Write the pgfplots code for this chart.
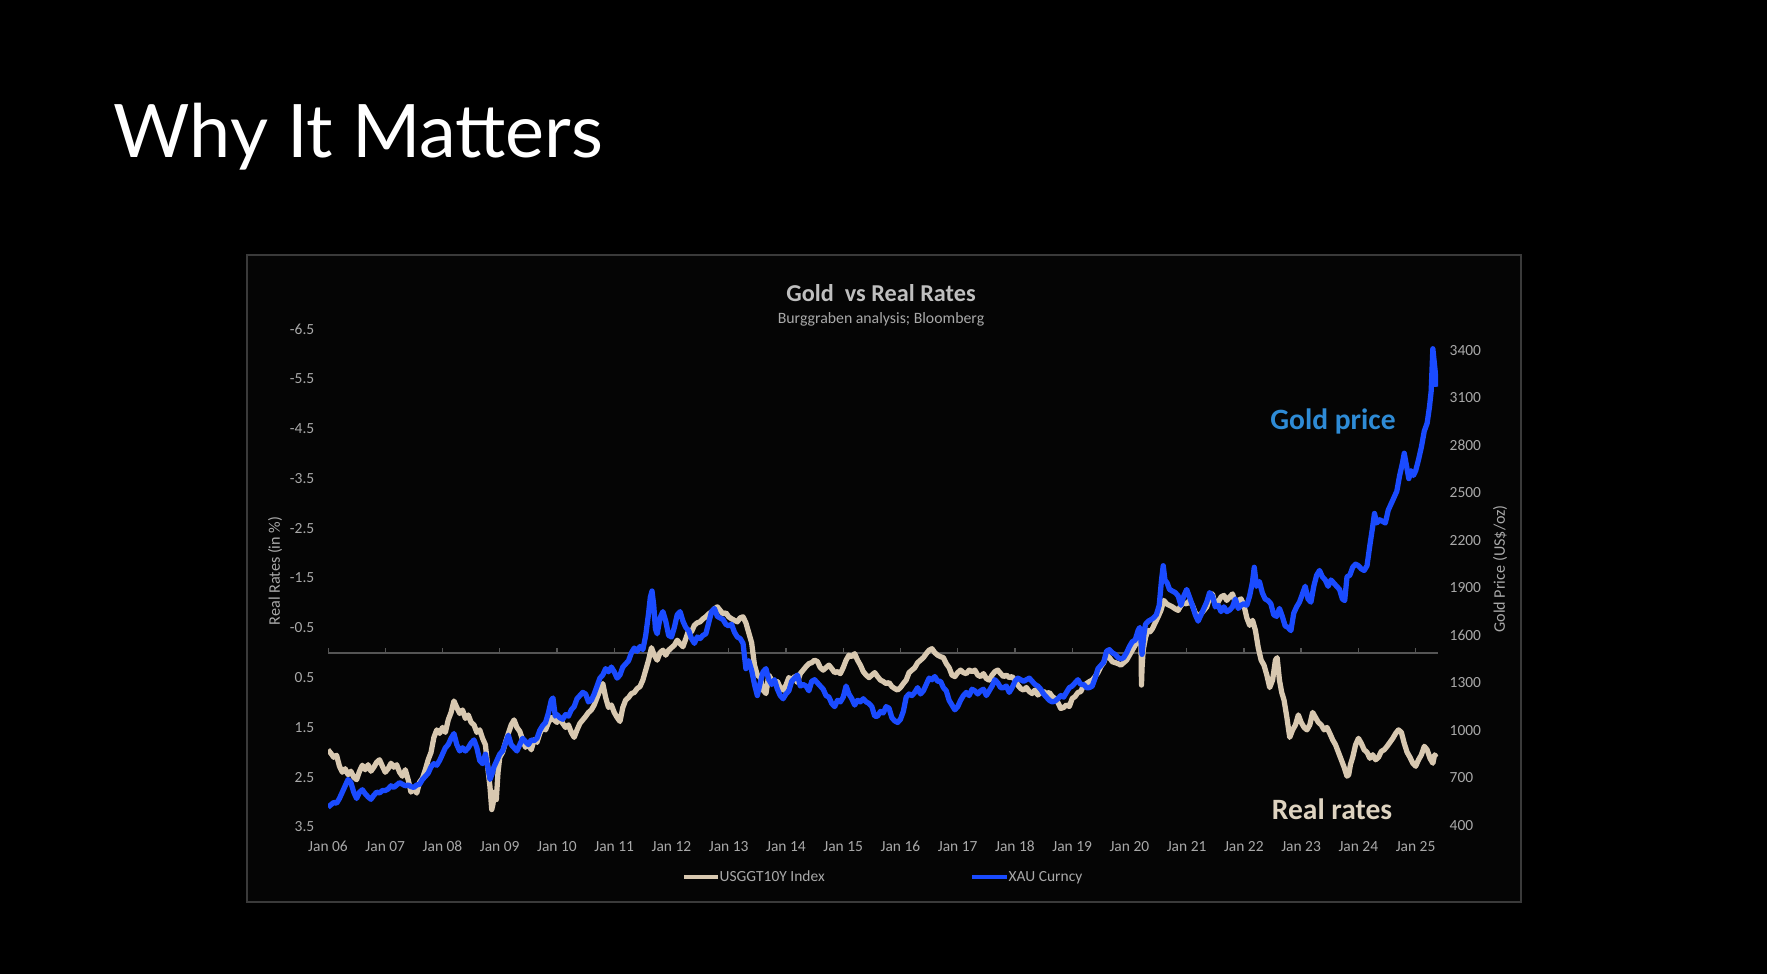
\documentclass[border=0pt]{standalone}
\usepackage{fontspec}
\setmainfont{Carlito}
\newfontfamily\titlefont{Lato}
\usepackage{pgfplots}
\pgfplotsset{compat=1.18}
\usepackage{pgfplotstable}

\definecolor{beigeline}{HTML}{D8C8B0}
\definecolor{blueline}{HTML}{1A4BFF}
\definecolor{goldlbl}{HTML}{2E8BD6}
\definecolor{reallbl}{HTML}{DED3C0}
\definecolor{tickgray}{HTML}{A9A9A9}
\definecolor{titlegray}{HTML}{BFBFBF}
\definecolor{framegray}{HTML}{3A3A3A}
\definecolor{zerogray}{HTML}{555555}

\pgfplotstableread{
t r
2006.00 1.95
2006.05 2.02
2006.10 2.10
2006.15 2.06
2006.20 2.28
2006.25 2.40
2006.30 2.33
2006.35 2.45
2006.40 2.38
2006.45 2.50
2006.50 2.55
2006.55 2.38
2006.60 2.26
2006.65 2.35
2006.70 2.25
2006.75 2.38
2006.80 2.30
2006.85 2.20
2006.90 2.15
2006.95 2.28
2007.00 2.40
2007.05 2.33
2007.10 2.22
2007.15 2.30
2007.20 2.25
2007.25 2.40
2007.30 2.48
2007.35 2.35
2007.40 2.55
2007.45 2.80
2007.50 2.72
2007.55 2.82
2007.60 2.60
2007.65 2.52
2007.70 2.35
2007.75 2.15
2007.80 2.00
2007.85 1.70
2007.90 1.55
2007.95 1.62
2008.00 1.50
2008.05 1.60
2008.10 1.35
2008.15 1.20
2008.20 0.97
2008.25 1.10
2008.30 1.22
2008.35 1.15
2008.40 1.32
2008.45 1.25
2008.50 1.40
2008.55 1.45
2008.60 1.60
2008.65 1.55
2008.70 1.72
2008.75 1.85
2008.80 2.40
2008.83 2.70
2008.86 3.15
2008.88 3.05
2008.91 2.80
2008.94 2.95
2008.97 2.40
2009.00 2.10
2009.05 2.00
2009.10 1.80
2009.15 1.62
2009.20 1.45
2009.25 1.35
2009.30 1.50
2009.35 1.58
2009.40 1.75
2009.45 1.90
2009.50 1.82
2009.55 1.95
2009.60 1.75
2009.65 1.80
2009.70 1.62
2009.75 1.50
2009.80 1.55
2009.85 1.40
2009.90 1.30
2009.95 1.35
2010.00 1.40
2010.05 1.30
2010.10 1.42
2010.15 1.50
2010.20 1.45
2010.25 1.60
2010.30 1.70
2010.35 1.55
2010.40 1.42
2010.45 1.35
2010.50 1.28
2010.55 1.20
2010.60 1.15
2010.65 1.05
2010.70 0.90
2010.75 0.75
2010.80 0.62
2010.85 0.90
2010.90 1.10
2010.95 1.05
2011.00 1.20
2011.05 1.30
2011.10 1.38
2011.15 1.10
2011.20 0.95
2011.25 0.90
2011.30 0.82
2011.35 0.80
2011.40 0.72
2011.45 0.68
2011.50 0.55
2011.55 0.35
2011.60 0.15
2011.65 -0.10
2011.70 0.05
2011.75 0.15
2011.80 0.00
2011.85 -0.05
2011.90 0.05
2011.95 -0.05
2012.00 -0.10
2012.05 -0.15
2012.10 -0.25
2012.15 -0.18
2012.20 -0.12
2012.25 -0.28
2012.30 -0.45
2012.35 -0.42
2012.40 -0.55
2012.45 -0.60
2012.50 -0.62
2012.55 -0.68
2012.60 -0.72
2012.65 -0.78
2012.70 -0.82
2012.75 -0.88
2012.80 -0.92
2012.85 -0.85
2012.90 -0.78
2012.95 -0.80
2013.00 -0.72
2013.05 -0.68
2013.10 -0.65
2013.15 -0.62
2013.20 -0.70
2013.25 -0.72
2013.30 -0.60
2013.35 -0.40
2013.40 -0.20
2013.45 0.25
2013.50 0.45
2013.55 0.50
2013.60 0.75
2013.65 0.82
2013.70 0.45
2013.75 0.55
2013.80 0.62
2013.85 0.58
2013.90 0.70
2013.95 0.75
2014.00 0.65
2014.05 0.50
2014.10 0.55
2014.15 0.48
2014.20 0.60
2014.25 0.42
2014.30 0.35
2014.35 0.28
2014.40 0.22
2014.45 0.20
2014.50 0.15
2014.55 0.18
2014.60 0.30
2014.65 0.35
2014.70 0.30
2014.75 0.25
2014.80 0.32
2014.85 0.40
2014.90 0.38
2014.95 0.42
2015.00 0.30
2015.05 0.15
2015.10 0.05
2015.15 0.08
2015.20 0.02
2015.25 0.15
2015.30 0.25
2015.35 0.38
2015.40 0.45
2015.45 0.50
2015.50 0.45
2015.55 0.40
2015.60 0.48
2015.65 0.55
2015.70 0.58
2015.75 0.62
2015.80 0.60
2015.85 0.68
2015.90 0.72
2015.95 0.75
2016.00 0.70
2016.05 0.62
2016.10 0.55
2016.15 0.40
2016.20 0.35
2016.25 0.30
2016.30 0.20
2016.35 0.15
2016.40 0.10
2016.45 0.02
2016.50 -0.05
2016.55 -0.08
2016.60 0.00
2016.65 0.05
2016.70 0.08
2016.75 0.10
2016.80 0.22
2016.85 0.30
2016.90 0.45
2016.95 0.48
2017.00 0.40
2017.05 0.35
2017.10 0.40
2017.15 0.42
2017.20 0.35
2017.25 0.38
2017.30 0.35
2017.35 0.45
2017.40 0.48
2017.45 0.42
2017.50 0.52
2017.55 0.55
2017.60 0.45
2017.65 0.38
2017.70 0.35
2017.75 0.42
2017.80 0.48
2017.85 0.45
2017.90 0.50
2017.95 0.48
2018.00 0.55
2018.05 0.65
2018.10 0.72
2018.15 0.75
2018.20 0.70
2018.25 0.78
2018.30 0.82
2018.35 0.75
2018.40 0.85
2018.45 0.80
2018.50 0.78
2018.55 0.82
2018.60 0.80
2018.65 0.88
2018.70 0.92
2018.75 1.00
2018.80 1.12
2018.85 1.10
2018.90 1.05
2018.95 1.08
2019.00 0.92
2019.05 0.88
2019.10 0.80
2019.15 0.78
2019.20 0.65
2019.25 0.62
2019.30 0.58
2019.35 0.55
2019.40 0.48
2019.45 0.40
2019.50 0.28
2019.55 0.20
2019.60 0.05
2019.65 0.10
2019.70 0.18
2019.75 0.20
2019.80 0.22
2019.85 0.25
2019.90 0.20
2019.95 0.15
2020.00 0.05
2020.05 -0.05
2020.10 -0.15
2020.15 -0.25
2020.18 -0.30
2020.20 -0.35
2020.21 0.65
2020.22 0.30
2020.24 -0.05
2020.28 -0.30
2020.32 -0.45
2020.36 -0.42
2020.40 -0.48
2020.45 -0.60
2020.50 -0.72
2020.55 -0.85
2020.60 -1.05
2020.65 -0.98
2020.70 -0.95
2020.75 -0.92
2020.80 -0.88
2020.85 -0.85
2020.90 -0.95
2020.95 -1.00
2021.00 -0.98
2021.05 -1.05
2021.10 -0.95
2021.15 -0.80
2021.20 -0.72
2021.25 -0.78
2021.30 -0.85
2021.35 -0.92
2021.40 -1.10
2021.45 -1.18
2021.50 -0.95
2021.55 -1.02
2021.60 -1.12
2021.65 -1.15
2021.70 -1.05
2021.75 -1.12
2021.80 -1.18
2021.85 -1.00
2021.90 -1.05
2021.95 -1.08
2022.00 -0.95
2022.05 -0.70
2022.10 -0.55
2022.15 -0.65
2022.20 -0.45
2022.25 -0.10
2022.30 0.15
2022.35 0.25
2022.40 0.45
2022.45 0.70
2022.50 0.55
2022.55 0.15
2022.58 0.10
2022.62 0.55
2022.66 0.80
2022.70 0.95
2022.75 1.30
2022.80 1.70
2022.85 1.55
2022.90 1.45
2022.95 1.25
2023.00 1.40
2023.05 1.50
2023.10 1.55
2023.15 1.45
2023.20 1.20
2023.25 1.30
2023.30 1.40
2023.35 1.45
2023.40 1.55
2023.45 1.50
2023.50 1.62
2023.55 1.75
2023.60 1.85
2023.65 2.00
2023.70 2.15
2023.75 2.30
2023.80 2.48
2023.83 2.45
2023.86 2.25
2023.90 2.10
2023.95 1.85
2024.00 1.72
2024.05 1.82
2024.10 1.95
2024.15 2.00
2024.20 2.12
2024.25 2.05
2024.30 2.15
2024.35 2.10
2024.40 1.98
2024.45 1.95
2024.50 1.88
2024.55 1.80
2024.60 1.72
2024.65 1.62
2024.70 1.55
2024.75 1.60
2024.80 1.82
2024.85 2.00
2024.90 2.10
2024.95 2.22
2025.00 2.28
2025.05 2.15
2025.10 2.05
2025.15 1.88
2025.20 1.95
2025.25 2.12
2025.30 2.22
2025.33 2.05
2025.36 2.10
}\realrates

\pgfplotstableread{
t g
2006.00 525
2006.05 540
2006.10 555
2006.15 550
2006.20 580
2006.25 620
2006.30 660
2006.35 700
2006.40 680
2006.45 620
2006.50 580
2006.55 620
2006.60 635
2006.65 610
2006.70 590
2006.75 575
2006.80 600
2006.85 620
2006.90 615
2006.95 630
2007.00 630
2007.05 640
2007.10 660
2007.15 650
2007.20 665
2007.25 680
2007.30 670
2007.35 660
2007.40 665
2007.45 655
2007.50 650
2007.55 665
2007.60 670
2007.65 700
2007.70 720
2007.75 740
2007.80 780
2007.85 800
2007.90 790
2007.95 820
2008.00 860
2008.05 900
2008.10 920
2008.15 960
2008.20 990
2008.25 920
2008.30 880
2008.35 900
2008.40 880
2008.45 900
2008.50 930
2008.55 950
2008.60 900
2008.65 820
2008.70 800
2008.75 860
2008.80 760
2008.83 700
2008.87 740
2008.90 780
2008.95 820
2009.00 860
2009.05 880
2009.10 930
2009.15 980
2009.20 920
2009.25 900
2009.30 880
2009.35 920
2009.40 960
2009.45 940
2009.50 920
2009.55 950
2009.60 945
2009.65 960
2009.70 1010
2009.75 1040
2009.80 1060
2009.85 1120
2009.90 1200
2009.93 1215
2009.97 1100
2010.00 1110
2010.05 1090
2010.10 1080
2010.15 1110
2010.20 1100
2010.25 1140
2010.30 1160
2010.35 1210
2010.40 1230
2010.45 1250
2010.50 1240
2010.55 1190
2010.60 1200
2010.65 1240
2010.70 1290
2010.75 1340
2010.80 1360
2010.85 1400
2010.90 1380
2010.95 1410
2011.00 1380
2011.05 1340
2011.10 1360
2011.15 1410
2011.20 1430
2011.25 1450
2011.30 1500
2011.35 1530
2011.40 1510
2011.45 1540
2011.50 1520
2011.55 1610
2011.60 1750
2011.63 1850
2011.66 1890
2011.69 1800
2011.72 1650
2011.75 1620
2011.80 1720
2011.85 1760
2011.90 1700
2011.95 1610
2012.00 1600
2012.05 1660
2012.10 1740
2012.15 1760
2012.20 1700
2012.25 1660
2012.30 1640
2012.35 1590
2012.40 1560
2012.45 1600
2012.50 1590
2012.55 1610
2012.60 1620
2012.65 1690
2012.70 1760
2012.75 1780
2012.80 1730
2012.85 1720
2012.90 1710
2012.95 1680
2013.00 1670
2013.05 1680
2013.10 1630
2013.15 1600
2013.20 1590
2013.25 1560
2013.30 1400
2013.35 1450
2013.40 1390
2013.45 1300
2013.50 1230
2013.55 1310
2013.60 1380
2013.65 1400
2013.70 1330
2013.75 1300
2013.80 1330
2013.85 1270
2013.90 1230
2013.95 1210
2014.00 1240
2014.05 1260
2014.10 1320
2014.15 1340
2014.20 1360
2014.25 1290
2014.30 1300
2014.35 1290
2014.40 1260
2014.45 1320
2014.50 1330
2014.55 1310
2014.60 1290
2014.65 1270
2014.70 1230
2014.75 1220
2014.80 1180
2014.85 1160
2014.90 1200
2014.95 1190
2015.00 1220
2015.05 1290
2015.10 1240
2015.15 1210
2015.20 1170
2015.25 1200
2015.30 1190
2015.35 1210
2015.40 1190
2015.45 1180
2015.50 1160
2015.55 1100
2015.60 1100
2015.65 1130
2015.70 1120
2015.75 1160
2015.80 1150
2015.85 1090
2015.90 1070
2015.95 1060
2016.00 1080
2016.05 1130
2016.10 1220
2016.15 1240
2016.20 1230
2016.25 1250
2016.30 1280
2016.35 1240
2016.40 1260
2016.45 1300
2016.50 1340
2016.55 1330
2016.60 1350
2016.65 1320
2016.70 1320
2016.75 1280
2016.80 1260
2016.85 1200
2016.90 1170
2016.95 1140
2017.00 1160
2017.05 1200
2017.10 1230
2017.15 1250
2017.20 1230
2017.25 1270
2017.30 1260
2017.35 1240
2017.40 1260
2017.45 1270
2017.50 1230
2017.55 1260
2017.60 1290
2017.65 1330
2017.70 1310
2017.75 1280
2017.80 1280
2017.85 1290
2017.90 1250
2017.95 1280
2018.00 1320
2018.05 1340
2018.10 1330
2018.15 1320
2018.20 1330
2018.25 1340
2018.30 1320
2018.35 1300
2018.40 1290
2018.45 1270
2018.50 1240
2018.55 1220
2018.60 1200
2018.65 1190
2018.70 1195
2018.75 1210
2018.80 1230
2018.85 1220
2018.90 1250
2018.95 1280
2019.00 1290
2019.05 1310
2019.10 1330
2019.15 1300
2019.20 1300
2019.25 1280
2019.30 1280
2019.35 1290
2019.40 1340
2019.45 1400
2019.50 1420
2019.55 1440
2019.60 1510
2019.65 1520
2019.70 1500
2019.75 1490
2019.80 1470
2019.85 1460
2019.90 1470
2019.95 1500
2020.00 1540
2020.05 1570
2020.10 1580
2020.15 1640
2020.18 1660
2020.20 1580
2020.22 1490
2020.25 1610
2020.28 1680
2020.33 1700
2020.38 1710
2020.42 1720
2020.47 1740
2020.52 1800
2020.56 1960
2020.59 2050
2020.62 1960
2020.66 1940
2020.70 1900
2020.75 1890
2020.80 1880
2020.85 1860
2020.90 1800
2020.95 1860
2021.00 1900
2021.05 1850
2021.10 1800
2021.15 1740
2021.20 1700
2021.25 1740
2021.30 1780
2021.35 1820
2021.40 1880
2021.45 1860
2021.50 1790
2021.55 1800
2021.60 1760
2021.65 1790
2021.70 1760
2021.75 1770
2021.80 1790
2021.85 1840
2021.90 1780
2021.95 1800
2022.00 1810
2022.05 1800
2022.10 1860
2022.15 1950
2022.18 2040
2022.22 1920
2022.27 1950
2022.32 1880
2022.37 1840
2022.42 1830
2022.47 1810
2022.52 1740
2022.57 1730
2022.62 1780
2022.67 1730
2022.72 1670
2022.77 1660
2022.82 1640
2022.87 1750
2022.92 1790
2022.97 1820
2023.02 1870
2023.07 1920
2023.12 1840
2023.17 1820
2023.22 1920
2023.27 1990
2023.32 2020
2023.37 1980
2023.42 1960
2023.47 1920
2023.52 1960
2023.57 1940
2023.62 1920
2023.67 1900
2023.72 1840
2023.76 1830
2023.80 1980
2023.85 1990
2023.90 2040
2023.95 2060
2024.00 2050
2024.05 2030
2024.10 2020
2024.15 2050
2024.20 2180
2024.25 2300
2024.28 2380
2024.32 2320
2024.37 2340
2024.42 2330
2024.47 2320
2024.52 2400
2024.57 2440
2024.62 2480
2024.67 2520
2024.72 2620
2024.77 2700
2024.80 2760
2024.84 2680
2024.88 2600
2024.92 2650
2024.96 2620
2025.00 2650
2025.05 2720
2025.10 2800
2025.15 2900
2025.20 2950
2025.24 3050
2025.27 3150
2025.30 3420
2025.32 3350
2025.34 3280
2025.36 3180
}\goldprice

\begin{document}
\begin{tikzpicture}
\fill[black] (0,0) rectangle (17.67,9.74);
\useasboundingbox (0,0) rectangle (17.67,9.74);

\node[anchor=base west, inner sep=0pt, text=white, font=\titlefont\fontsize{21}{25}\selectfont] at (1.13,8.16) {Why It Matters};

\draw[framegray, line width=0.6pt, fill={rgb,255:red,5;green,5;blue,5}] (2.47,0.72) rectangle (15.21,7.19);

\node[text=titlegray, font=\bfseries\fontsize{6.9}{8}\selectfont, inner sep=0pt] at (8.81,6.81) {Gold\ \ vs Real Rates};
\node[text=tickgray, font=\fontsize{4.5}{5}\selectfont, inner sep=0pt] at (8.81,6.55) {Burggraben analysis; Bloomberg};

\node[rotate=90, text=tickgray, font=\fontsize{4.6}{5}\selectfont, inner sep=0pt] at (2.75,4.03) {Real Rates (in \%)};
\node[rotate=90, text=tickgray, font=\fontsize{4.6}{5}\selectfont, inner sep=0pt] at (15.00,4.05) {Gold Price (US\$/oz)};

\begin{axis}[
  at={(3.28cm,1.47cm)}, anchor=south west,
  width=11.10cm, height=4.98cm, scale only axis,
  xmin=2006, xmax=2025.39,
  ymin=-6.5, ymax=3.5, y dir=reverse,
  axis x line=none, axis y line*=left,
  axis line style={draw=none},
  major tick length=0pt,
  ytick={-6.5,-5.5,-4.5,-3.5,-2.5,-1.5,-0.5,0.5,1.5,2.5,3.5},
  yticklabels={-6.5,-5.5,-4.5,-3.5,-2.5,-1.5,-0.5,0.5,1.5,2.5,3.5},
  tick label style={font=\fontsize{4.4}{5}\selectfont, text=tickgray, inner sep=0pt},
  yticklabel shift=0.13cm,
]
\draw[zerogray, line width=0.5pt] (axis cs:2006,0) -- (axis cs:2025.39,0);
\pgfplotsinvokeforeach{2006,...,2025}{
  \draw[zerogray, line width=0.4pt] (axis cs:#1,0) -- ++(0pt,1.2pt);
}
\addplot[beigeline, line width=1.5pt, line join=round, mark=none] table[x=t, y=r] {\realrates};
\end{axis}

\begin{axis}[
  at={(3.28cm,1.47cm)}, anchor=south west,
  width=11.10cm, height=4.98cm, scale only axis,
  xmin=2006, xmax=2025.39,
  ymin=400, ymax=3545,
  axis x line*=bottom, axis y line*=right,
  axis line style={draw=none},
  major tick length=0pt,
  typeset ticklabels with strut,
  xtick={2006,2007,...,2025},
  xticklabels={Jan 06,Jan 07,Jan 08,Jan 09,Jan 10,Jan 11,Jan 12,Jan 13,Jan 14,Jan 15,Jan 16,Jan 17,Jan 18,Jan 19,Jan 20,Jan 21,Jan 22,Jan 23,Jan 24,Jan 25},
  ytick={400,700,...,3400},
  yticklabels={400,700,1000,1300,1600,1900,2200,2500,2800,3100,3400},
  tick label style={font=\fontsize{4.4}{5}\selectfont, text=tickgray, inner sep=0pt},
  xticklabel shift=0.12cm, yticklabel shift=0.11cm,
]
\addplot[blueline, line width=1.5pt, line join=round, mark=none] table[x=t, y=g] {\goldprice};
\end{axis}

\node[text=goldlbl, font=\bfseries\fontsize{8.4}{10}\selectfont, inner sep=0pt] at (13.33,5.53) {Gold price};
\node[text=reallbl, font=\bfseries\fontsize{8.4}{10}\selectfont, inner sep=0pt] at (13.32,1.65) {Real rates};

\draw[beigeline, line width=1.2pt] (6.84,0.97) -- (7.18,0.97);
\node[anchor=base west, text=tickgray, font=\fontsize{4.4}{5}\selectfont, inner sep=0pt] at (7.19,0.92) {USGGT10Y Index};
\draw[blueline, line width=1.2pt] (9.72,0.97) -- (10.07,0.97);
\node[anchor=base west, text=tickgray, font=\fontsize{4.4}{5}\selectfont, inner sep=0pt] at (10.08,0.92) {XAU Curncy};
\end{tikzpicture}
\end{document}
